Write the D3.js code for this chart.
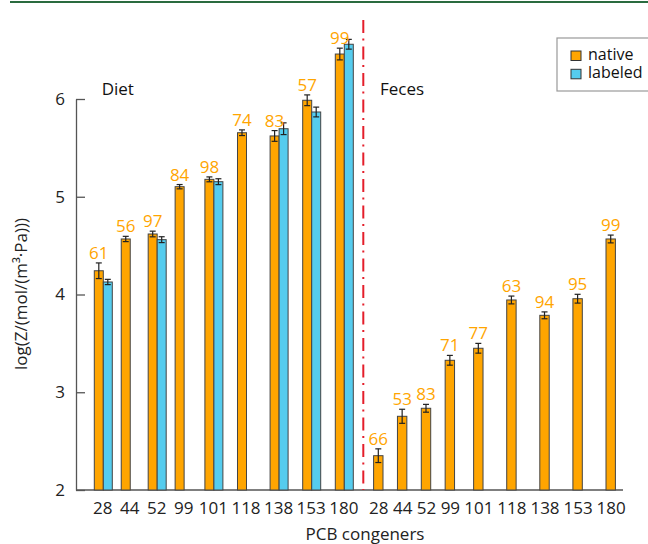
<!DOCTYPE html>
<html>
<head>
<meta charset="utf-8">
<script src="https://cdn.jsdelivr.net/npm/d3@7"></script>
<style>
  body { margin: 0; background: #fff; }
  text { font-family: "Open Sans", sans-serif; }
</style>
</head>
<body>
<div id="vis"></div>
<script>
// set constants
const FRAME_WIDTH = 648;
const FRAME_HEIGHT = 544;

// data
const congeners = ["28", "44", "52", "99", "101", "118", "138", "153", "180"];
const dietNative = [4.243, 4.568, 4.619, 5.103, 5.178, 5.655, 5.622, 5.987, 6.46];
const dietNativeErr = [0.08, 0.027, 0.029, 0.022, 0.025, 0.029, 0.055, 0.055, 0.06];
const dietLabeled = [4.128, null, 4.561, null, 5.154, null, 5.696, 5.867, 6.56];
const dietLabeledErr = [0.027, null, 0.03, null, 0.03, null, 0.06, 0.05, 0.05];
const dietPct = ["61", "56", "97", "84", "98", "74", "83", "57", "99"];
const fecesNative = [2.351, 2.754, 2.836, 3.327, 3.45, 3.944, 3.787, 3.957, 4.568];
const fecesNativeErr = [0.07, 0.072, 0.04, 0.05, 0.05, 0.04, 0.035, 0.045, 0.04];
const fecesPct = ["66", "53", "83", "71", "77", "63", "94", "95", "99"];
const yTicks = [2, 3, 4, 5, 6];

const ORANGE = "#FFA500";
const BLUE = "#55CCEE";

const svg = d3.select("#vis")
  .append("svg")
    .attr("width", FRAME_WIDTH)
    .attr("height", FRAME_HEIGHT);

// green bar on top
svg.append("rect")
  .attr("x", 10).attr("y", 1).attr("width", 640).attr("height", 2)
  .attr("fill", "#2a6b3f");

// tick positions follow the width of the labels
function labelUnits(labels, k) {
  let u = [0];
  for (let i = 1; i < labels.length; i++) {
    u.push(u[i - 1] + (labels[i - 1].length + labels[i].length) / 2 + k);
  }
  return u;
}
const dietUnits = labelUnits(congeners, 2.76);
const fecesUnits = labelUnits(congeners, 0.58);

const X_DIET = d3.scaleLinear()
  .domain([0, dietUnits[dietUnits.length - 1]])
  .range([102.3, 343.3]);
const X_FECES = d3.scaleLinear()
  .domain([0, fecesUnits[fecesUnits.length - 1]])
  .range([378.3, 610.7]);

const Y_SCALE = d3.scaleLinear().domain([2, 6]).range([490, 99]);

// y axis
const yAxis = svg.append("g")
  .attr("transform", "translate(76,0)")
  .call(d3.axisLeft(Y_SCALE).tickValues(yTicks).tickFormat(d3.format("d"))
    .tickSizeInner(-9).tickSizeOuter(0).tickPadding(11));
yAxis.selectAll("path, line").attr("stroke", "#555").attr("stroke-width", 1.3);
yAxis.selectAll("text").attr("font-size", "17px").attr("fill", "#222")
  .attr("font-family", "Open Sans, sans-serif");

// x axes (labels only)
function xLabels(scale, units) {
  const g = svg.append("g")
    .attr("transform", "translate(0,490)")
    .call(d3.axisBottom(scale).tickValues(units).tickSize(0).tickPadding(12)
      .tickFormat((d, i) => congeners[i]));
  g.select(".domain").remove();
  g.selectAll("text").attr("font-size", "17px").attr("fill", "#222")
    .attr("font-family", "Open Sans, sans-serif");
}
xLabels(X_DIET, dietUnits);
xLabels(X_FECES, fecesUnits);

// x axis line
svg.append("line")
  .attr("x1", 76).attr("x2", 623).attr("y1", 490).attr("y2", 490)
  .attr("stroke", "#555").attr("stroke-width", 1.3);

// bars
function drawBars(values, errs, xs, offset, width, color) {
  const data = values.map((v, i) => ({ v: v, e: errs[i], x: xs[i] })).filter(d => d.v !== null);
  svg.selectAll(null)
    .data(data)
    .enter()
    .append("rect")
      .attr("x", d => d.x + offset)
      .attr("y", d => Y_SCALE(d.v))
      .attr("width", width)
      .attr("height", d => Y_SCALE(2) - Y_SCALE(d.v))
      .attr("fill", color)
      .attr("stroke", "#444")
      .attr("stroke-width", 1);
  const eb = svg.selectAll(null)
    .data(data)
    .enter()
    .append("g")
      .attr("stroke", "#222")
      .attr("stroke-width", 1.2);
  eb.append("line")
    .attr("x1", d => d.x + offset + width / 2).attr("x2", d => d.x + offset + width / 2)
    .attr("y1", d => Y_SCALE(d.v + d.e)).attr("y2", d => Y_SCALE(d.v - d.e));
  eb.append("line")
    .attr("x1", d => d.x + offset + width / 2 - 3).attr("x2", d => d.x + offset + width / 2 + 3)
    .attr("y1", d => Y_SCALE(d.v + d.e)).attr("y2", d => Y_SCALE(d.v + d.e));
  eb.append("line")
    .attr("x1", d => d.x + offset + width / 2 - 3).attr("x2", d => d.x + offset + width / 2 + 3)
    .attr("y1", d => Y_SCALE(d.v - d.e)).attr("y2", d => Y_SCALE(d.v - d.e));
  return data;
}

const dietX = dietUnits.map(u => X_DIET(u));
const fecesX = fecesUnits.map(u => X_FECES(u));

const dn = drawBars(dietNative, dietNativeErr, dietX, -8, 9, ORANGE);
drawBars(dietLabeled, dietLabeledErr, dietX, 1, 9, BLUE);
const fn = drawBars(fecesNative, fecesNativeErr, fecesX, -4.7, 9.4, ORANGE);

// percentage labels
function pctLabels(data, pct, offset, width) {
  svg.selectAll(null)
    .data(data)
    .enter()
    .append("text")
      .attr("x", d => d.x + offset + width / 2)
      .attr("y", d => Y_SCALE(d.v + d.e) - 4)
      .attr("text-anchor", "middle")
      .attr("font-size", "17px")
      .attr("fill", ORANGE)
      .text((d, i) => pct[i]);
}
pctLabels(dn, dietPct, -8, 9);
pctLabels(fn, fecesPct, -4.7, 9.4);

// separator
svg.append("line")
  .attr("x1", 363.3).attr("x2", 363.3).attr("y1", 20).attr("y2", 490)
  .attr("stroke", "#e41e2b").attr("stroke-width", 2)
  .attr("stroke-dasharray", "13,5.5,2,6");

// group names
svg.append("text").attr("x", 101.7).attr("y", 95).attr("font-size", "17px").attr("fill", "#111").text("Diet");
svg.append("text").attr("x", 380).attr("y", 95).attr("font-size", "17px").attr("fill", "#111").text("Feces");

// axis titles
svg.append("text")
  .attr("x", 365).attr("y", 540)
  .attr("text-anchor", "middle").attr("font-size", "17px").attr("fill", "#222")
  .text("PCB congeners");
svg.append("text")
  .attr("transform", "translate(27,294) rotate(-90)")
  .attr("text-anchor", "middle").attr("font-size", "17px").attr("fill", "#222")
  .text("log(Z/(mol/(m³·Pa)))");

// legend
const legend = svg.append("g");
legend.append("rect")
  .attr("x", 557).attr("y", 38).attr("width", 100).attr("height", 53)
  .attr("fill", "#fff").attr("stroke", "#999").attr("stroke-width", 1.2);
const legendItems = [{ name: "native", color: ORANGE }, { name: "labeled", color: BLUE }];
legendItems.forEach((d, i) => {
  legend.append("rect")
    .attr("x", 571).attr("y", 51 + i * 18.3).attr("width", 10).attr("height", 9.5)
    .attr("fill", d.color).attr("stroke", "#333").attr("stroke-width", 1);
  legend.append("text")
    .attr("x", 588).attr("y", 60 + i * 18.3)
    .attr("font-size", "16px").attr("fill", "#111")
    .text(d.name);
});
</script>
</body>
</html>
